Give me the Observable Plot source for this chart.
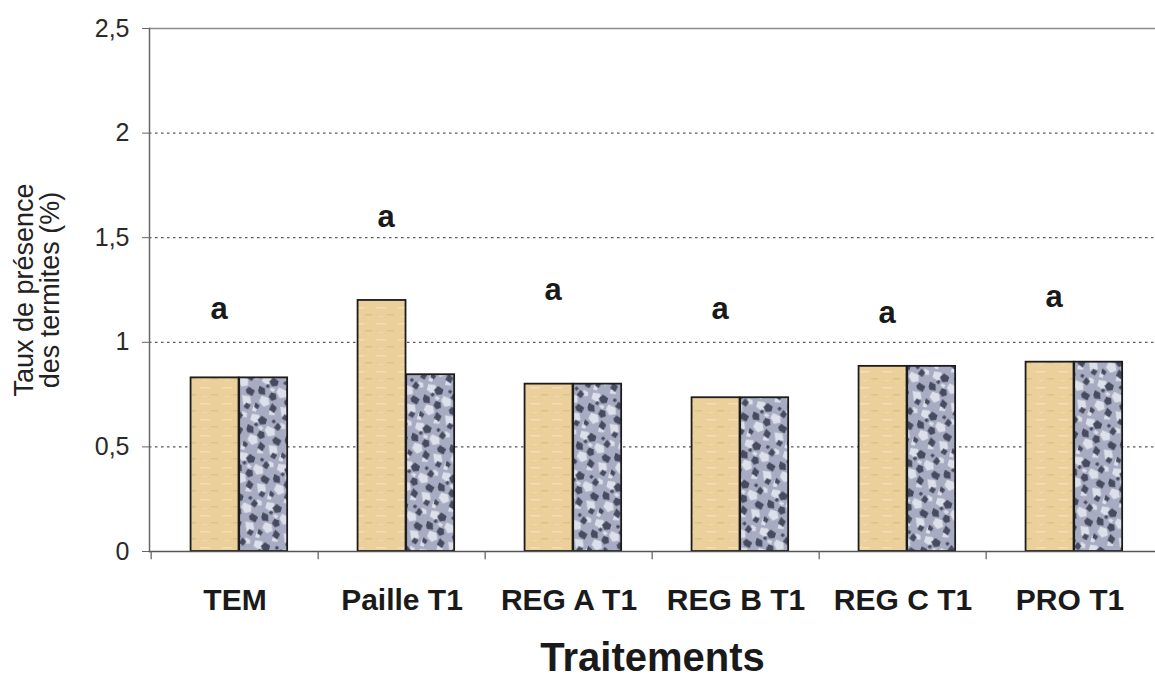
<!DOCTYPE html>
<html>
<head>
<meta charset="utf-8">
<script src="https://cdn.jsdelivr.net/npm/d3@7"></script>
<script src="https://cdn.jsdelivr.net/npm/@observablehq/plot@0.6"></script>
<style>
  body { margin: 0; background: #fff; }
  #chart svg { display: block; }
</style>
</head>
<body>
<div id="chart"></div>
<script>
// ---- Data ----
const categories = ["TEM", "Paille T1", "REG A T1", "REG B T1", "REG C T1", "PRO T1"];
const seriesNames = ["Série 1", "Série 2"];
const serie1 = [0.83, 1.20, 0.80, 0.735, 0.885, 0.905];
const serie2 = [0.83, 0.845, 0.80, 0.735, 0.885, 0.905];
const letters = ["a", "a", "a", "a", "a", "a"];
const letterY = [1.16, 1.60, 1.25, 1.16, 1.14, 1.215];
const yTicks = [0, 0.5, 1, 1.5, 2, 2.5];
const gridValues = [0.5, 1, 1.5, 2];
const xTitle = "Traitements";
const yTitle = "Taux de présence\ndes termites (%)";

// ---- Layout ----
const W = 1155, H = 681;
const mL = 149, mR = 0, mT = 28, mB = 130;
const step = (W - mL - mR) / categories.length;
const barW = 0.29 * step;
const off = 0.236 * step;

const d1 = categories.map((c, i) => ({cat: c, serie: seriesNames[0], value: serie1[i]}));
const d2 = categories.map((c, i) => ({cat: c, serie: seriesNames[1], value: serie2[i]}));
const lab = categories.map((c, i) => ({cat: c, y: letterY[i], t: letters[i]}));
const fmt = d => String(d).replace(".", ",");

const chart = Plot.plot({
  width: W, height: H,
  marginLeft: mL, marginRight: mR, marginTop: mT, marginBottom: mB,
  style: {fontFamily: "'Liberation Sans', Arial, sans-serif", background: "#fff", overflow: "visible"},
  x: {domain: categories, padding: 0, axis: null},
  y: {domain: [0, 2.5], axis: null},
  marks: [
    Plot.ruleY(gridValues, {stroke: "#5a5a5a", strokeDasharray: "2.5,3.5", strokeWidth: 1.2}),
    Plot.ruleY([2.5], {stroke: "#8c8c8c", strokeWidth: 1.6}),
    Plot.frame({anchor: "left", stroke: "#666", strokeWidth: 1.5}),
    Plot.barY(d1, {x: "cat", y: "value", fill: "url(#tanPat)", stroke: "#1c1c1c", strokeWidth: 1.8,
      insetLeft: off, insetRight: step - off - barW}),
    Plot.barY(d2, {x: "cat", y: "value", fill: "url(#granitePat)", stroke: "#1c1c1c", strokeWidth: 1.8,
      insetLeft: off + barW, insetRight: step - off - 2 * barW}),
    Plot.ruleY([0], {stroke: "#555", strokeWidth: 1.6}),
    Plot.ruleX(categories, {x: d => d, y1: 0, y2: -0.04, dx: -step / 2, stroke: "#666", strokeWidth: 1.3}),
    Plot.axisY({ticks: yTicks, tickFormat: fmt, tickSize: 7, tickPadding: 13, fontSize: 25,
      fill: "#2a2a2a", stroke: "#666", label: null}),
    Plot.axisX({tickSize: 0, tickPadding: 37, fontSize: 30, fontWeight: "bold", fill: "#1a1a1a", label: null}),
    Plot.text(lab, {x: "cat", y: "y", text: "t", dx: -16, fontSize: 31, fontWeight: "bold", fill: "#1a1a1a"}),
    Plot.text([xTitle], {frameAnchor: "bottom", dy: 119, fontSize: 40, fontWeight: "bold", fill: "#1a1a1a"}),
    Plot.text([yTitle], {frameAnchor: "left", textAnchor: "middle", rotate: -90, dx: -112, fontSize: 27,
      lineHeight: 0.98, fill: "#222"})
  ]
});

// patterns for the textured bars
const defs = d3.select(chart).insert("defs", ":first-child");
const tan = defs.append("pattern").attr("id", "tanPat").attr("patternUnits", "userSpaceOnUse")
  .attr("width", 22).attr("height", 16);
tan.append("rect").attr("width", 22).attr("height", 16).attr("fill", "#ebd09c");
tan.append("rect").attr("x", 2).attr("y", 3).attr("width", 10).attr("height", 1.5).attr("fill", "#f2dfb8");
tan.append("rect").attr("x", 13).attr("y", 10).attr("width", 7).attr("height", 1.5).attr("fill", "#e0c089");
tan.append("rect").attr("x", 5).attr("y", 12).attr("width", 4).attr("height", 1.2).attr("fill", "#f0daae");

const gr = defs.append("pattern").attr("id", "granitePat").attr("patternUnits", "userSpaceOnUse")
  .attr("width", 40).attr("height", 40).attr("patternTransform", "rotate(17)");
gr.append("rect").attr("width", 40).attr("height", 40).attr("fill", "#a7acc2");
const light = [
  "M2 2 l7 -1 l3 5 l-4 4 l-6 -2z", "M20 9 l8 1 l2 6 l-6 3 l-5 -5z",
  "M6 22 l7 0 l3 6 l-5 4 l-6 -4z", "M27 27 l8 -1 l3 6 l-7 4z", "M13 11 l4 1 l-1 3 l-4 -1z",
  "M32 2 l5 1 l1 4 l-5 1z", "M1 33 l4 1 l0 5 l-4 0z", "M18 33 l5 0 l1 4 l-6 1z"
];
light.forEach(d => gr.append("path").attr("d", d).attr("fill", "#dde0ea"));
const dark = [
  "M12 1 l6 2 l0 5 l-5 2 l-4 -4z", "M29 3 l5 3 l-2 5 l-5 -2z", "M1 13 l6 1 l2 6 l-6 1 l-2 -3z",
  "M14 16 l5 0 l2 5 l-4 3 l-4 -3z", "M31 17 l7 2 l-1 6 l-6 -1 l-2 -3z", "M18 26 l6 3 l-1 6 l-6 -2z",
  "M2 30 l5 2 l-1 4 l-4 -1z", "M33 33 l5 1 l-1 5 l-5 -1z", "M24 1 l3 1 l-1 3 l-3 -1z",
  "M8 9 l3 1 l-1 3 l-3 -1z"
];
dark.forEach(d => gr.append("path").attr("d", d).attr("fill", "#464b5f"));

document.getElementById("chart").append(chart);
</script>
</body>
</html>
